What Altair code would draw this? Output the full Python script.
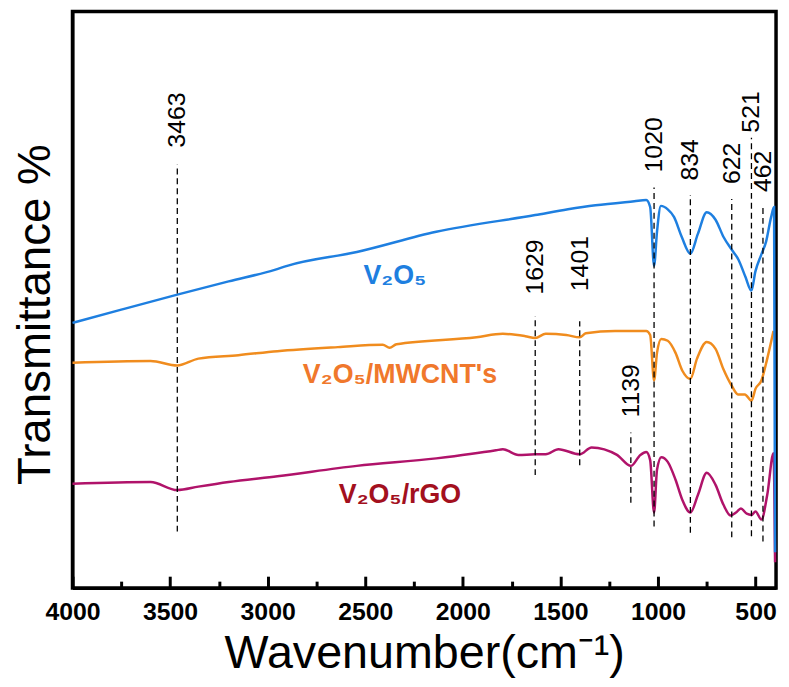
import altair as alt
import pandas as pd

# ---- spectra (wavenumber cm-1, transmittance in arbitrary offset units) ----
v2o5_wn = [4000, 3750, 3463, 3200, 2964, 2900, 2543, 2136, 1629, 1461, 1320, 1121, 1060, 1040, 1020, 1005, 985, 950, 918, 878, 834, 796, 750, 705, 664, 622, 588, 552, 521, 501, 471, 446, 420, 405, 400]
v2o5_t = [46.0, 48.3, 50.9, 53.2, 55.2, 55.9, 58.3, 61.8, 64.7, 65.7, 66.4, 67.1, 67.3, 66.1, 55.9, 61.8, 66.3, 65.7, 64.4, 60.9, 58.0, 61.4, 65.2, 63.9, 60.9, 58.7, 57.0, 54.0, 51.6, 54.9, 57.8, 60.1, 64.4, 66.1, 6.2]

mw_wn = [4000, 3600, 3463, 3355, 3150, 2950, 2640, 2410, 2375, 2340, 1930, 1795, 1680, 1629, 1575, 1470, 1401, 1370, 1220, 1060, 1040, 1020, 1005, 983, 950, 910, 875, 834, 800, 750, 705, 665, 622, 590, 555, 521, 500, 470, 440, 408]
mw_t = [39.1, 39.4, 38.6, 39.8, 40.4, 41.1, 41.8, 42.2, 41.7, 42.3, 43.5, 44.1, 43.7, 43.4, 44.1, 43.9, 43.5, 44.2, 44.6, 44.6, 43.9, 36.0, 40.8, 43.2, 42.9, 40.8, 37.7, 36.3, 39.8, 42.7, 41.5, 38.0, 35.1, 33.6, 33.6, 32.5, 34.6, 36.0, 39.8, 44.6]

rgo_wn = [4000, 3600, 3463, 3355, 3200, 2950, 2543, 2136, 1830, 1795, 1715, 1629, 1575, 1510, 1401, 1340, 1210, 1139, 1090, 1060, 1040, 1020, 1005, 983, 950, 910, 875, 834, 795, 750, 705, 665, 628, 600, 575, 545, 521, 500, 470, 440, 408, 400]
rgo_t = [18.1, 18.4, 17.0, 17.6, 18.4, 19.4, 21.2, 22.5, 23.9, 24.1, 23.1, 23.2, 23.2, 24.1, 23.2, 24.4, 23.1, 21.2, 23.1, 23.6, 22.2, 13.1, 20.5, 22.7, 21.9, 18.8, 15.3, 13.1, 16.2, 20.0, 17.9, 14.5, 12.6, 13.1, 13.8, 12.9, 12.7, 13.3, 11.9, 16.2, 23.4, 4.5]

# ---- peak markers ----
peak_wn = [3463, 1629, 1401, 1139, 1020, 834, 622, 521, 462]
peak_top = [73.5, 47.2, 46.3, 27.0, 69.5, 68.2, 67.5, 78.1, 66.6]
peak_bottom = [9.8, 19.6, 21.3, 14.8, 10.7, 9.6, 8.8, 9.0, 8.1]
peak_label_y = [76.4, 50.9, 51.5, 29.6, 72.1, 70.7, 70.1, 79.0, 68.7]

# ---- series labels ----
label_text = ["V₂O₅", "V₂O₅/MWCNT's", "V₂O₅/rGO"]
label_wn = [2348, 2322, 2322]
label_t = [52.7, 35.6, 14.8]

major_ticks = [4000, 3500, 3000, 2500, 2000, 1500, 1000, 500]
minor_ticks = [3750, 3250, 2750, 2250, 1750, 1250, 750]

line_colors = ["#1E7FE0", "#F08C1E", "#B0136A"]
text_colors = ["#1E7FE0", "#F0782C", "#A3101E"]

W, H = 709, 581
FONT = "Liberation Sans, Arial, sans-serif"

xscale = alt.Scale(domain=[4000, 395], nice=False, zero=False)
yscale = alt.Scale(domain=[0, 100], nice=False, zero=False)


def series_df(wn, t):
    return pd.DataFrame({"wn": wn, "t": t, "idx": list(range(len(wn)))})


main_xaxis = alt.Axis(values=major_ticks, orient="bottom", format="d", ticks=False,
                      domain=True, domainColor="black", domainWidth=3, grid=False,
                      labelFont=FONT, labelFontSize=25, labelFontWeight="bold", labelColor="black",
                      labelPadding=12, labelFlush=False,
                      title="Wavenumber(cm⁻¹)", titleFont=FONT, titleFontSize=47,
                      titleFontWeight="normal", titleColor="black", titlePadding=6)
main_yaxis = alt.Axis(orient="left", labels=False, ticks=False, domain=True, domainColor="black",
                      domainWidth=3, grid=False,
                      title="Transmittance %", titleFont=FONT, titleFontSize=46,
                      titleFontWeight="normal", titleColor="black",
                      titleX=-23, titleY=305, titleAngle=270, titleAlign="center",
                      titleBaseline="alphabetic")

layers = []
series = [(rgo_wn, rgo_t, line_colors[2]), (mw_wn, mw_t, line_colors[1]), (v2o5_wn, v2o5_t, line_colors[0])]
for i, (wn, t, col) in enumerate(series):
    xenc = alt.X("wn:Q", scale=xscale, axis=main_xaxis if i == 0 else None)
    layers.append(
        alt.Chart(series_df(wn, t)).mark_line(color=col, strokeWidth=2.5, interpolate="monotone").encode(
            x=xenc, y=alt.Y("t:Q", scale=yscale, axis=main_yaxis), order=alt.Order("idx:Q")
        )
    )

peaks = pd.DataFrame({"wn": peak_wn, "top": peak_top, "bottom": peak_bottom,
                      "ly": peak_label_y, "lab": [str(v) for v in peak_wn]})

rules = alt.Chart(peaks).mark_rule(color="black", strokeWidth=1.3, strokeDash=[6, 4]).encode(
    x=alt.X("wn:Q", scale=xscale,
            axis=alt.Axis(orient="top", offset=-H, values=major_ticks, labels=False, domain=False,
                          grid=False, ticks=True, tickSize=12, tickWidth=3, tickColor="black", title=None)),
    y=alt.Y("bottom:Q", scale=yscale, axis=main_yaxis),
    y2="top:Q",
)

peak_text = alt.Chart(peaks).mark_text(angle=270, align="left", baseline="middle", font=FONT,
                                       fontSize=25, color="black").encode(
    x=alt.X("wn:Q", scale=xscale,
            axis=alt.Axis(orient="top", offset=-H, values=minor_ticks, labels=False, domain=False,
                          grid=False, ticks=True, tickSize=7, tickWidth=3, tickColor="black", title=None)),
    y=alt.Y("ly:Q", scale=yscale, axis=main_yaxis),
    text="lab:N",
)

layers += [rules, peak_text]

for i in range(3):
    df = pd.DataFrame({"wn": [label_wn[i]], "t": [label_t[i]], "lab": [label_text[i]]})
    layers.append(
        alt.Chart(df).mark_text(font=FONT, fontSize=27, fontWeight="bold", color=text_colors[i],
                                align="center", baseline="alphabetic").encode(
            x=alt.X("wn:Q", scale=xscale, axis=None),
            y=alt.Y("t:Q", scale=yscale, axis=main_yaxis),
            text="lab:N",
        )
    )

chart = alt.layer(*layers).resolve_axis(x="independent", y="shared").properties(
    width=W, height=H,
    autosize=alt.AutoSizeParams(type="none"),
    padding={"left": 65, "top": 1, "right": 5, "bottom": 90},
    view=alt.ViewBackground(stroke="black", strokeWidth=3.5),
).configure_view(stroke="black", strokeWidth=3.5)

chart.save("out.html", embed_options={"renderer": "svg", "actions": False})
